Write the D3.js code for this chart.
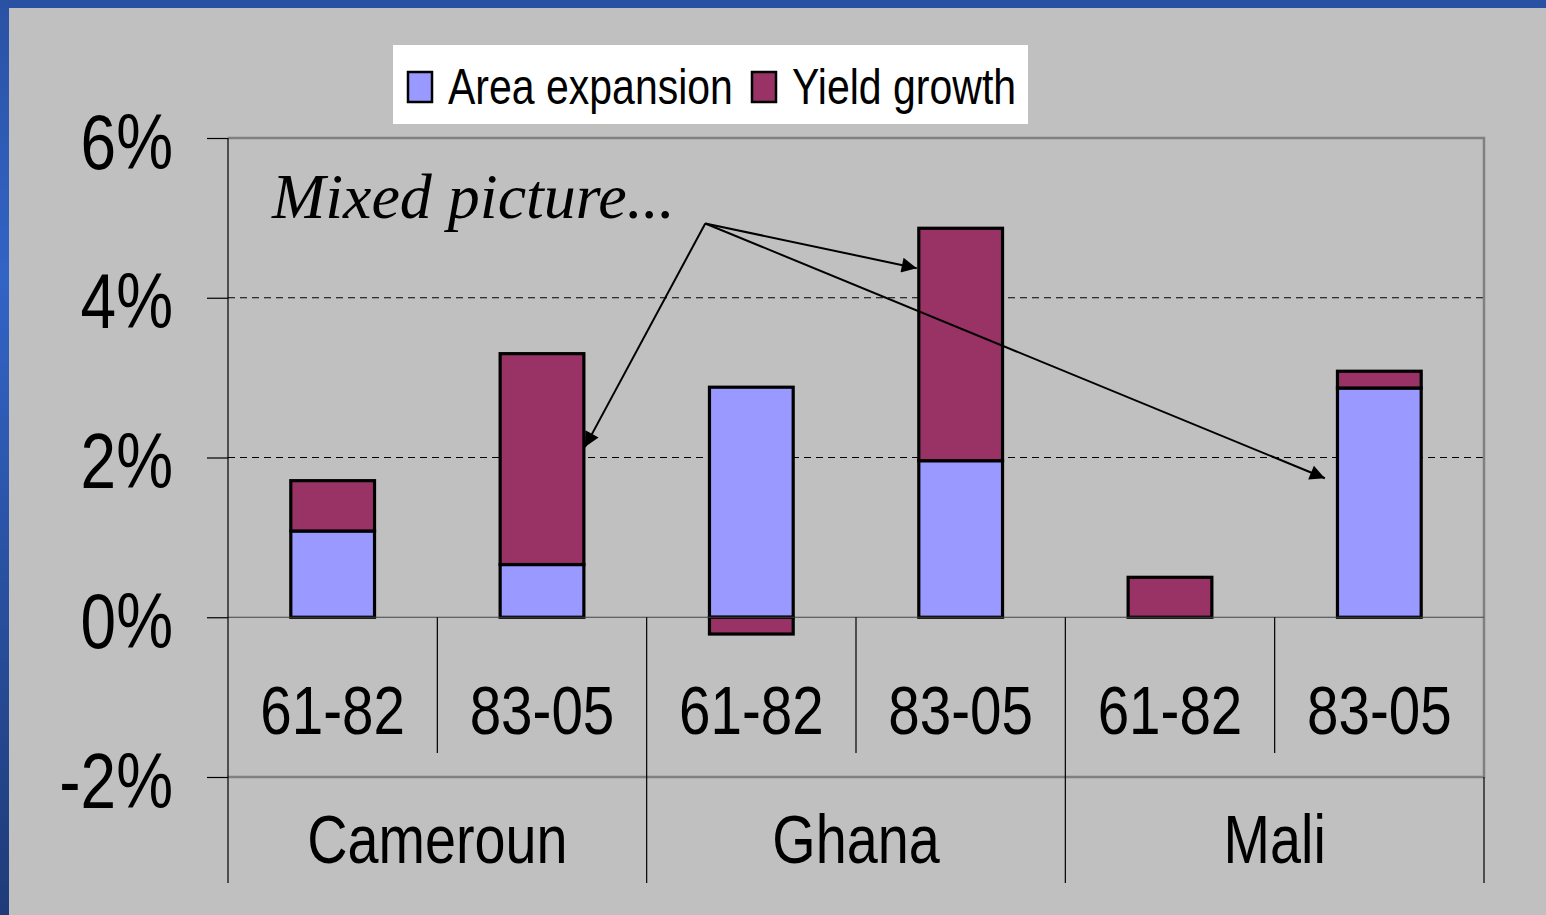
<!DOCTYPE html>
<html>
<head>
<meta charset="utf-8">
<script src="https://cdn.jsdelivr.net/npm/d3@7"></script>
<style>
  body { margin: 0; background: #c0c0c0; }
  svg { display: block; }
</style>
</head>
<body>
<svg id="chart" width="1546" height="915"></svg>
<script>
// data (percent per year)
var countries = ["Cameroun", "Ghana", "Mali"]
var periods = ["61-82", "83-05"]
var seriesNames = ["Area expansion", "Yield growth"]
var seriesColors = ["#9999ff", "#993366"]
var areaValues = [1.08, 0.66, 2.88, 1.96, 0.00, 2.87]
var yieldValues = [0.63, 2.64, -0.21, 2.91, 0.50, 0.21]
var yTicks = [-2, 0, 2, 4, 6]
var gridValues = [2, 4]

// annotation: arrows from one point to three bars (x in category units, y in %)
var noteText = "Mixed picture..."
var notePos = [0.21, 5.0]
var arrowFrom = [2.28, 4.93]
var arrowTo = [[1.705, 2.13], [3.29, 4.37], [5.24, 1.74]]

var W = 1546, H = 915
var LEFT = 228, RIGHT = 1484, TOP = 138, BOTTOM = 777
var TIER1 = 753, TIER2 = 883
var SANS = "'Liberation Sans', Arial, sans-serif"
var SQUEEZE = 0.82   // the original uses a condensed face

var svg = d3.select("#chart")

var defs = svg.append("defs")
var grad = defs.append("linearGradient")
    .attr("id", "edge")
    .attr("x1", 0).attr("y1", 0).attr("x2", 0).attr("y2", 1)
grad.append("stop").attr("offset", "0%").attr("stop-color", "#2a52a3")
grad.append("stop").attr("offset", "30%").attr("stop-color", "#3264c6")
grad.append("stop").attr("offset", "100%").attr("stop-color", "#1f3b78")

defs.append("marker")
    .attr("id", "head")
    .attr("markerUnits", "userSpaceOnUse")
    .attr("viewBox", "0 0 10 10")
    .attr("refX", 10).attr("refY", 5)
    .attr("markerWidth", 20).attr("markerHeight", 15)
    .attr("orient", "auto")
  .append("path")
    .attr("d", "M0,0 L10,5 L0,10 z")
    .attr("fill", "#000")

// condensed text helper
function squeezed(sel, px, py) {
  return sel.attr("x", 0).attr("y", 0)
      .attr("transform", "translate(" + px + "," + py + ") scale(" + SQUEEZE + ",1)")
}

// page background and blue edges
svg.append("rect").attr("width", W).attr("height", H).attr("fill", "#c0c0c0")
svg.append("rect").attr("width", W).attr("height", 8).attr("fill", "#2951a3")
svg.append("rect").attr("width", 9).attr("height", H).attr("fill", "url(#edge)")

var rows = []
countries.forEach(function(c, i) {
  periods.forEach(function(p, j) {
    var k = i * periods.length + j
    rows.push({ key: c + " " + p, country: c, period: p, area: areaValues[k], yield: yieldValues[k] })
  })
})

var x = d3.scaleBand()
    .domain(rows.map(function(d) { return d.key }))
    .range([LEFT, RIGHT])
    .paddingInner(0.6)
    .paddingOuter(0.3)

var y = d3.scaleLinear().domain([-2, 6]).range([BOTTOM, TOP])

// continuous category scale for annotations
var xc = d3.scaleLinear().domain([0, rows.length]).range([LEFT, RIGHT])

// gridlines
svg.append("g").selectAll("line")
    .data(gridValues)
    .join("line")
    .attr("x1", LEFT).attr("x2", RIGHT)
    .attr("y1", function(d) { return y(d) }).attr("y2", function(d) { return y(d) })
    .attr("stroke", "#000")
    .attr("stroke-width", 1)
    .attr("stroke-dasharray", "7,5")

// plot area border (grey)
svg.append("path")
    .attr("d", "M" + LEFT + "," + TOP + "H" + RIGHT + "V" + BOTTOM + "H" + LEFT)
    .attr("fill", "none")
    .attr("stroke", "#808080")
    .attr("stroke-width", 2.5)

// stacked bars
var stack = d3.stack()
    .keys(["area", "yield"])
    .offset(d3.stackOffsetDiverging)
var layers = stack(rows)

svg.append("g").selectAll("g")
    .data(layers)
    .join("g")
    .attr("fill", function(d, i) { return seriesColors[i] })
  .selectAll("rect")
    .data(function(d) { return d.filter(function(s) { return s[1] !== s[0] }) })
    .join("rect")
    .attr("x", function(d) { return x(d.data.key) })
    .attr("width", x.bandwidth())
    .attr("y", function(d) { return y(Math.max(d[0], d[1])) })
    .attr("height", function(d) { return Math.abs(y(d[0]) - y(d[1])) })
    .attr("stroke", "#000")
    .attr("stroke-width", 3.2)

// category axis line at zero
svg.append("line")
    .attr("x1", LEFT).attr("x2", RIGHT)
    .attr("y1", y(0)).attr("y2", y(0))
    .attr("stroke", "#444")
    .attr("stroke-width", 1.2)

// value axis
var yAxis = d3.axisLeft(y)
    .tickValues(yTicks)
    .tickSize(21)
    .tickFormat(function(d) { return d + "%" })
var ya = svg.append("g")
    .attr("transform", "translate(" + LEFT + ",0)")
    .call(yAxis)
ya.select(".domain").remove()
ya.selectAll(".tick line").attr("stroke", "#000").attr("stroke-width", 1.2)
ya.selectAll(".tick text")
    .attr("dy", null)
    .attr("fill", "#000")
    .attr("font-family", SANS)
    .attr("font-size", 78)
    .call(squeezed, -55, 30)
svg.append("line")
    .attr("x1", LEFT).attr("x2", LEFT)
    .attr("y1", TOP).attr("y2", TIER2)
    .attr("stroke", "#000").attr("stroke-width", 1.2)

// multi-level category labels
var sep = svg.append("g").attr("stroke", "#000").attr("stroke-width", 1.2)
rows.forEach(function(d, i) {
  if (i === 0) return
  var xx = xc(i)
  var isCountry = i % periods.length === 0
  sep.append("line")
      .attr("x1", xx).attr("x2", xx)
      .attr("y1", y(0)).attr("y2", isCountry ? TIER2 : TIER1)
})
sep.append("line")
    .attr("x1", RIGHT).attr("x2", RIGHT)
    .attr("y1", BOTTOM).attr("y2", TIER2)

svg.append("g").selectAll("text")
    .data(rows)
    .join("text")
    .attr("text-anchor", "middle")
    .attr("font-family", SANS)
    .attr("font-size", 69)
    .text(function(d) { return d.period })
    .each(function(d) {
      d3.select(this).call(squeezed, x(d.key) + x.bandwidth() / 2, 734)
    })

svg.append("g").selectAll("text")
    .data(countries)
    .join("text")
    .attr("text-anchor", "middle")
    .attr("font-family", SANS)
    .attr("font-size", 68)
    .text(function(d) { return d })
    .each(function(d, i) {
      d3.select(this).call(squeezed, xc(i * periods.length + periods.length / 2), 863)
    })

// legend
var legend = svg.append("g")
legend.append("rect")
    .attr("x", 393).attr("y", 45)
    .attr("width", 635).attr("height", 79)
    .attr("fill", "#fff")
var legendX = [408, 752]
seriesNames.forEach(function(name, i) {
  legend.append("rect")
      .attr("x", legendX[i]).attr("y", 72)
      .attr("width", 24).attr("height", 30)
      .attr("fill", seriesColors[i])
      .attr("stroke", "#000")
      .attr("stroke-width", 2.5)
  legend.append("text")
      .attr("font-family", SANS)
      .attr("font-size", 50)
      .text(name)
      .call(squeezed, legendX[i] + 40, 104)
})

// annotation
svg.append("text")
    .attr("x", xc(notePos[0])).attr("y", y(notePos[1]))
    .attr("font-family", "'Liberation Serif', 'Times New Roman', serif")
    .attr("font-style", "italic")
    .attr("font-size", 64)
    .text(noteText)

svg.append("g").selectAll("line")
    .data(arrowTo)
    .join("line")
    .attr("x1", xc(arrowFrom[0])).attr("y1", y(arrowFrom[1]))
    .attr("x2", function(d) { return xc(d[0]) }).attr("y2", function(d) { return y(d[1]) })
    .attr("stroke", "#000")
    .attr("stroke-width", 2)
    .attr("marker-end", "url(#head)")
</script>
</body>
</html>
